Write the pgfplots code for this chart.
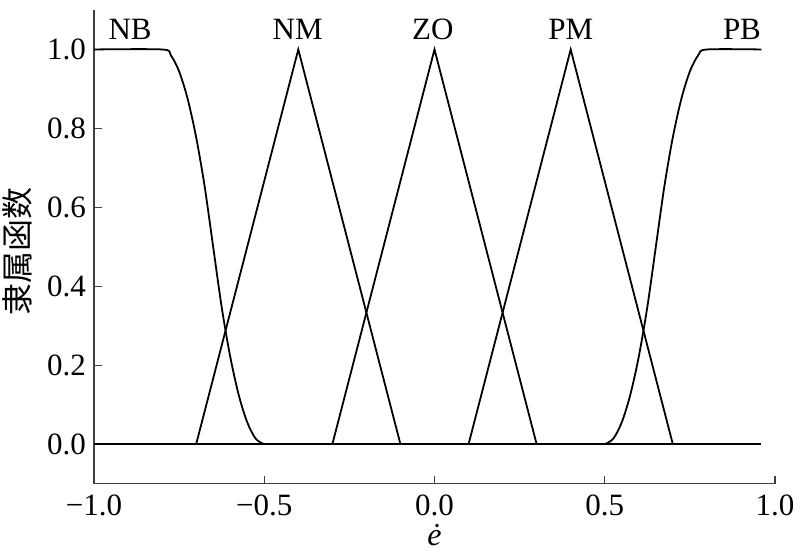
\documentclass[border=0pt]{standalone}
\usepackage{fontspec}
\setmainfont{Liberation Serif}
\newfontfamily\cjk{Noto Sans CJK SC}
\usepackage{pgfplots}
\pgfplotsset{compat=1.18}
\begin{document}
\begin{tikzpicture}
\useasboundingbox (-47pt,-36.15pt) rectangle (353pt,241.85pt);
\begin{axis}[
  at={(0,0)}, anchor=south west,
  scale only axis, width=340.5pt, height=236.85pt,
  xmin=-1, xmax=1, ymin=-0.1, ymax=1.1,
  axis x line*=bottom, axis y line*=left,
  axis line style={black!75, line width=0.7pt},
  xtick={-1,-0.5,0,0.5,1}, ytick={0,0.2,0.4,0.6,0.8,1.0},
  xticklabels={−1.0,−0.5,0.0,0.5,1.0},
  yticklabels={0.0,0.2,0.4,0.6,0.8,1.0},
  tick style={black!75, line width=0.7pt},
  tick align=inside, major tick length=4pt,
  tick label style={font=\fontsize{15.5}{16}\selectfont},
  xticklabel style={yshift=-2pt},
  yticklabel style={xshift=-0.5pt},
  xlabel={\itshape ė},
  xlabel style={font=\fontsize{16}{17}\selectfont, yshift=2.5pt},
  ylabel={\cjk 隶属函数},
  ylabel style={font=\fontsize{16}{17}\selectfont, yshift=0.5pt, xshift=-2.5pt},
  clip=false,
]
% zero line
\addplot[black, line width=0.9pt] coordinates {(-1,0) (0.96,0)};
% NB (Z-shape)
\addplot[black, line width=0.9pt, smooth] coordinates {
(-1,1) (-0.8,1) (-0.775,0.9861) (-0.75,0.9444) (-0.725,0.875) (-0.7,0.7778)
(-0.675,0.6528) (-0.65,0.5) (-0.625,0.3472) (-0.6,0.2222) (-0.575,0.125)
(-0.55,0.0556) (-0.525,0.0139) (-0.5,0)};
% NM
\addplot[black, line width=0.9pt] coordinates {(-0.7,0) (-0.4,1) (-0.1,0)};
% ZO
\addplot[black, line width=0.9pt] coordinates {(-0.3,0) (0,1) (0.3,0)};
% PM
\addplot[black, line width=0.9pt] coordinates {(0.1,0) (0.4,1) (0.7,0)};
% PB (S-shape)
\addplot[black, line width=0.9pt, smooth] coordinates {
(0.5,0) (0.525,0.0139) (0.55,0.0556) (0.575,0.125) (0.6,0.2222) (0.625,0.3472)
(0.65,0.5) (0.675,0.6528) (0.7,0.7778) (0.725,0.875) (0.75,0.9444)
(0.775,0.9861) (0.8,1) (0.96,1)};
\begin{scope}[font=\fontsize{15.5}{16}\selectfont]
\node at (axis cs:-0.894,1.05) {NB};
\node at (axis cs:-0.402,1.05) {NM};
\node at (axis cs:-0.005,1.05) {ZO};
\node at (axis cs:0.40,1.05) {PM};
\node at (axis cs:0.903,1.05) {PB};
\end{scope}
\end{axis}
\end{tikzpicture}
\end{document}
